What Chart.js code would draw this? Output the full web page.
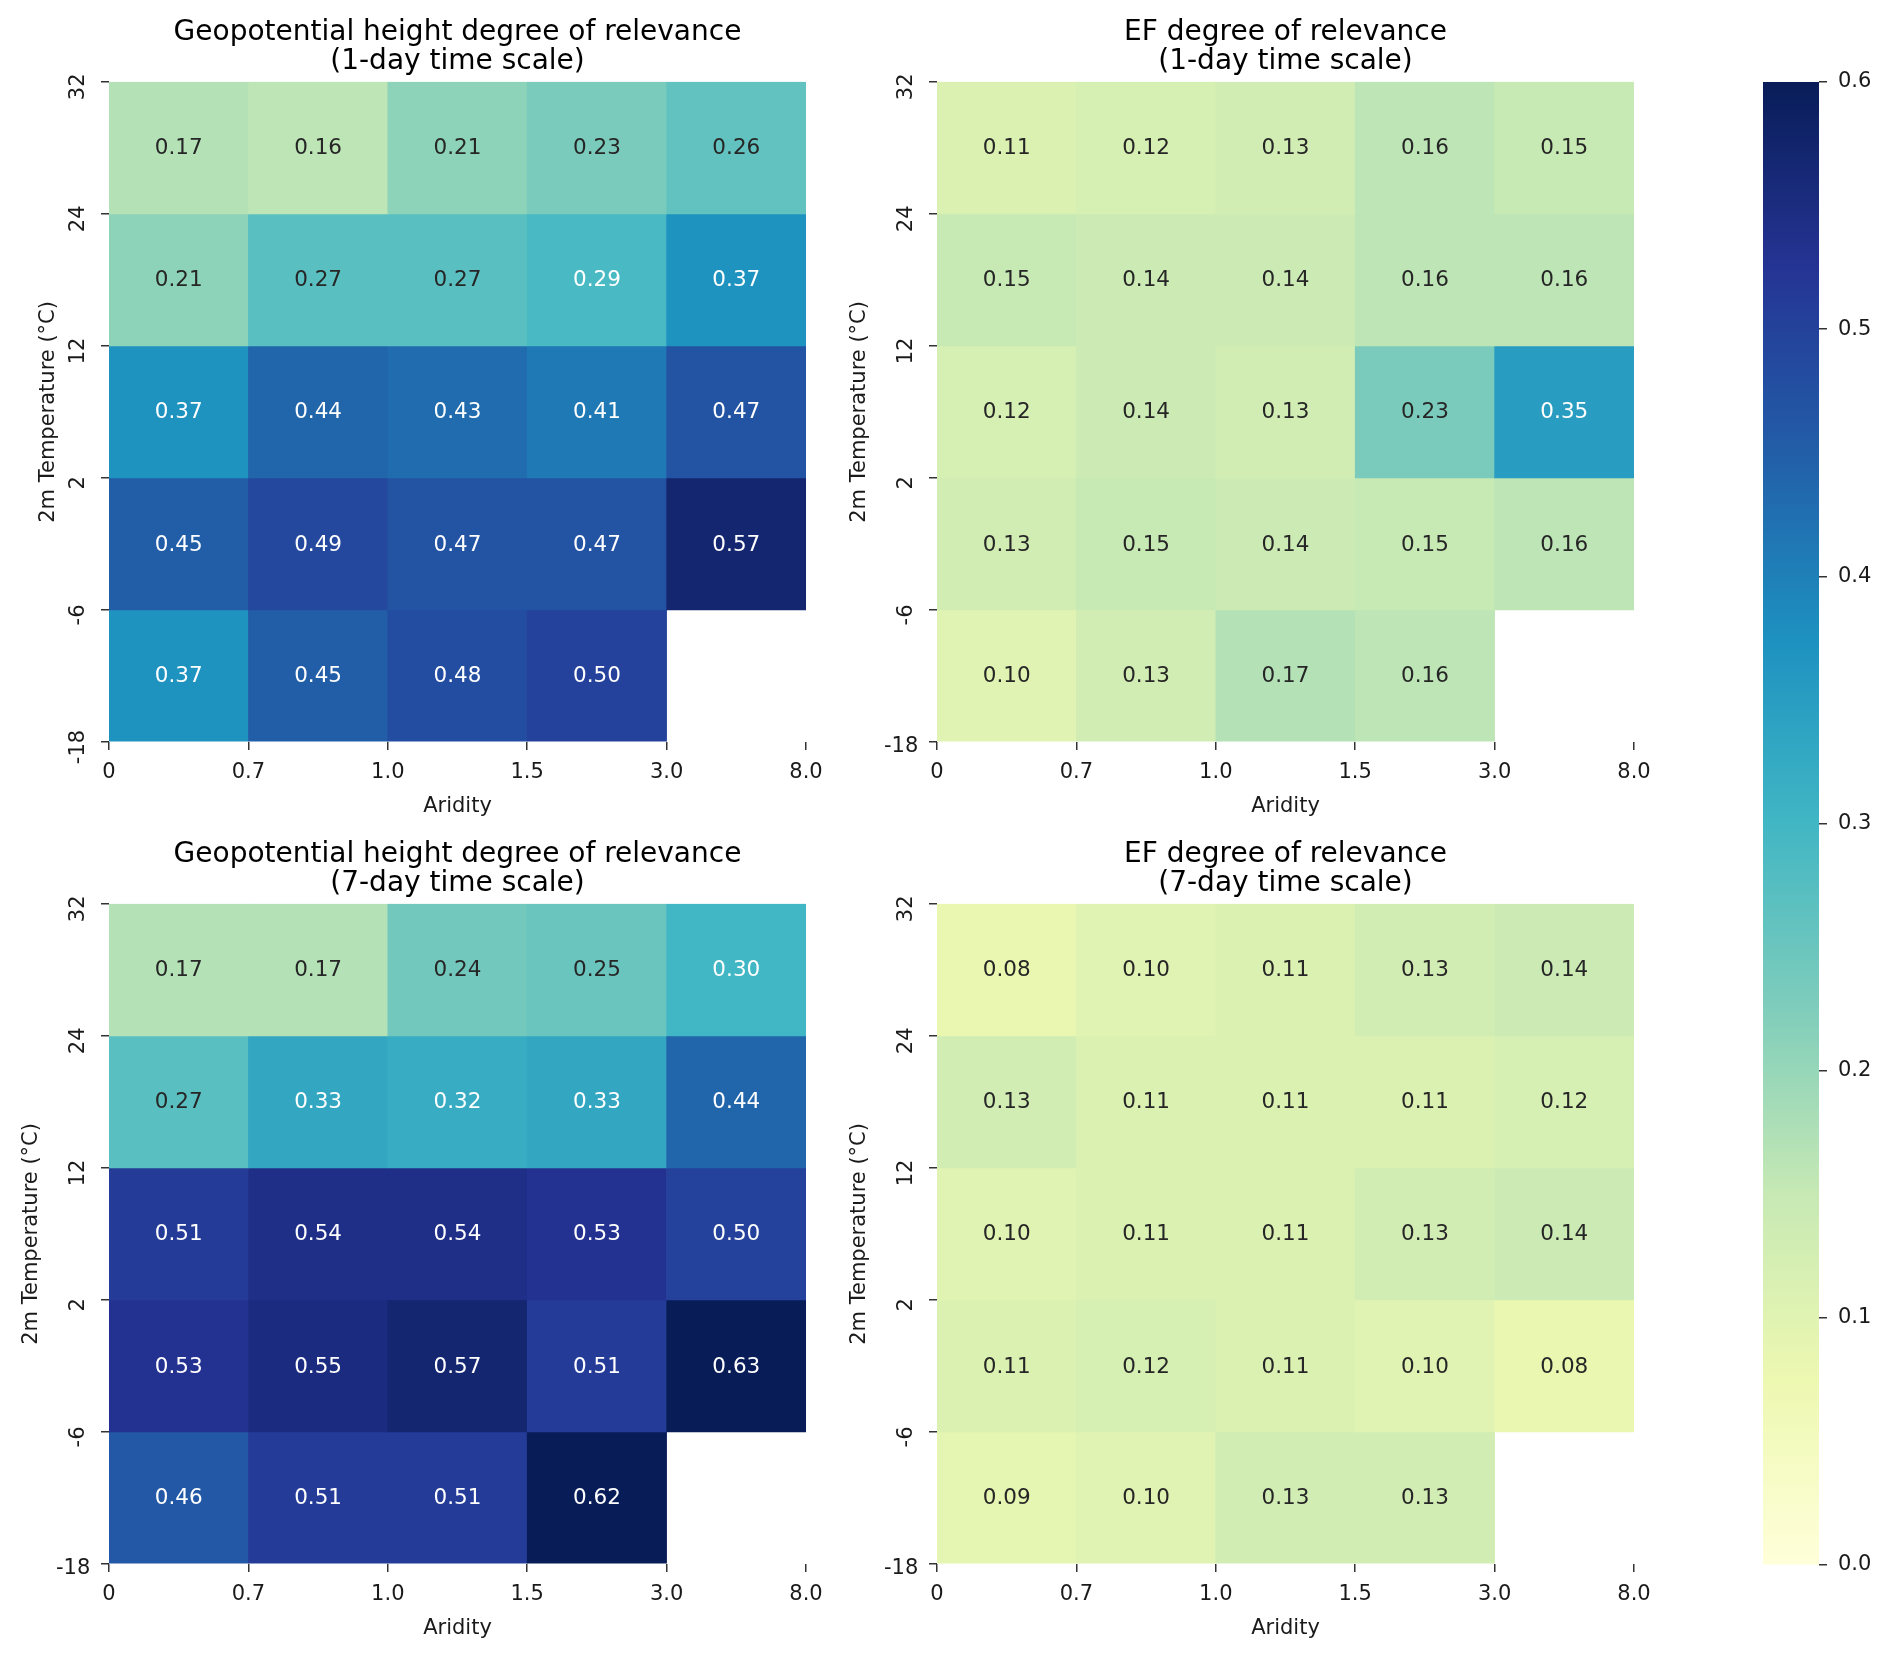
<!DOCTYPE html>
<html lang="en">
<head>
<meta charset="UTF-8">
<title>Degree of relevance by aridity and temperature</title>
<script src="https://cdn.jsdelivr.net/npm/chart.js"></script>
<style>
  body { margin: 0; background: #fff; }
  #fig { position: relative; width: 1892px; height: 1659px; }
  #fig canvas { position: absolute; }
</style>
</head>
<body>
<div id="fig">
  <canvas id="gph1" width="900" height="830" style="left:0px;top:0px"></canvas>
  <canvas id="ef1" width="900" height="830" style="left:828px;top:0px"></canvas>
  <canvas id="gph7" width="900" height="830" style="left:0px;top:822px"></canvas>
  <canvas id="ef7" width="900" height="830" style="left:828px;top:822px"></canvas>
  <canvas id="cbar" width="192" height="1659" style="left:1700px;top:0px"></canvas>
</div>
<script>
// bin edges
const aridityTicks = ['0', '0.7', '1.0', '1.5', '3.0', '8.0'];
const tempTicks = ['-18', '-6', '2', '12', '24', '32']; // bottom -> top

// rows: warmest band (24..32) first, coldest (-18..-6) last; columns: aridity bins
const gph1 = [
  [0.17, 0.16, 0.21, 0.23, 0.26],
  [0.21, 0.27, 0.27, 0.29, 0.37],
  [0.37, 0.44, 0.43, 0.41, 0.47],
  [0.45, 0.49, 0.47, 0.47, 0.57],
  [0.37, 0.45, 0.48, 0.50, null]
];
const ef1 = [
  [0.11, 0.12, 0.13, 0.16, 0.15],
  [0.15, 0.14, 0.14, 0.16, 0.16],
  [0.12, 0.14, 0.13, 0.23, 0.35],
  [0.13, 0.15, 0.14, 0.15, 0.16],
  [0.10, 0.13, 0.17, 0.16, null]
];
const gph7 = [
  [0.17, 0.17, 0.24, 0.25, 0.30],
  [0.27, 0.33, 0.32, 0.33, 0.44],
  [0.51, 0.54, 0.54, 0.53, 0.50],
  [0.53, 0.55, 0.57, 0.51, 0.63],
  [0.46, 0.51, 0.51, 0.62, null]
];
const ef7 = [
  [0.08, 0.10, 0.11, 0.13, 0.14],
  [0.13, 0.11, 0.11, 0.11, 0.12],
  [0.10, 0.11, 0.11, 0.13, 0.14],
  [0.11, 0.12, 0.11, 0.10, 0.08],
  [0.09, 0.10, 0.13, 0.13, null]
];
const vmin = 0, vmax = 0.6;

// matplotlib YlGnBu
const ylgnbu = ['#ffffd9', '#edf8b1', '#c7e9b4', '#7fcdbb', '#41b6c4', '#1d91c0', '#225ea8', '#253494', '#081d58'];

Chart.defaults.font.family = '"DejaVu Sans", sans-serif';
Chart.defaults.color = '#1a1a1a';

function hexRgb(h) {
  return [1, 3, 5].map(i => parseInt(h.substr(i, 2), 16));
}

function cmap(v) {
  let t = (v - vmin) / (vmax - vmin);
  t = Math.max(0, Math.min(1, t)) * (ylgnbu.length - 1);
  const i = Math.min(Math.floor(t), ylgnbu.length - 2);
  const f = t - i;
  const a = hexRgb(ylgnbu[i]), b = hexRgb(ylgnbu[i + 1]);
  return a.map((c, k) => Math.round(c + (b[k] - c) * f));
}

// same rule seaborn uses to pick the annotation colour
function luminance(rgb) {
  const lin = rgb.map(c => {
    c = c / 255;
    return c <= 0.03928 ? c / 12.92 : Math.pow((c + 0.055) / 1.055, 2.4);
  });
  return 0.2126 * lin[0] + 0.7152 * lin[1] + 0.0722 * lin[2];
}

const annotate = {
  id: 'annotate',
  afterDatasetsDraw(chart) {
    const ctx = chart.ctx;
    ctx.save();
    ctx.font = '21.5px "DejaVu Sans"';
    ctx.textAlign = 'center';
    ctx.textBaseline = 'middle';
    chart.data.datasets.forEach((ds, i) => {
      chart.getDatasetMeta(i).data.forEach((bar, j) => {
        ctx.fillStyle = ds.textColors[j];
        ctx.fillText(ds.values[j].toFixed(2), bar.x, (bar.y + bar.base) / 2 + 1);
      });
    });
    ctx.restore();
  }
};

const tickFont = { size: 21 };
const tickGrid = { drawOnChartArea: false, offset: false, tickLength: 8, color: '#333', lineWidth: 1.5 };

function makePanel(id, rows, title, flatBottom) {
  const n = rows.length;
  const datasets = rows.map((row, r) => {
    const cols = row.map((v, c) => c).filter(c => row[c] != null);
    const vals = cols.map(c => row[c]);
    return {
      data: cols.map(c => ({ x: c + 0.5, y: [n - 1 - r, n - r] })),
      values: vals,
      backgroundColor: vals.map(v => 'rgb(' + cmap(v).join(',') + ')'),
      textColors: vals.map(v => luminance(cmap(v)) > 0.408 ? '#262626' : '#ffffff'),
      borderWidth: 0,
      grouped: false,
      barPercentage: 1,
      categoryPercentage: 1
    };
  });

  return new Chart(document.getElementById(id), {
    type: 'bar',
    data: { datasets },
    plugins: [annotate],
    options: {
      responsive: false,
      animation: false,
      events: [],
      layout: { padding: { right: 94 } },
      plugins: {
        legend: { display: false },
        tooltip: { enabled: false },
        title: {
          display: true,
          text: title,
          fullSize: false,
          color: '#000',
          font: { size: 28, weight: 'normal', lineHeight: 1.05 },
          padding: { top: 18, bottom: 5 }
        }
      },
      scales: {
        x: {
          type: 'linear', min: 0, max: 5, offset: false,
          afterFit: s => { s.height = 88; s.paddingLeft = 0; s.paddingRight = 0; },
          ticks: {
            stepSize: 1, autoSkip: false, maxRotation: 0, padding: 10, font: tickFont,
            callback: v => aridityTicks[Math.round(v)]
          },
          grid: tickGrid,
          border: { display: false },
          title: { display: true, text: 'Aridity', font: tickFont, padding: { top: 0, bottom: 11 } }
        },
        // inner axis: tick marks and the rotated labels
        y: {
          type: 'linear', min: 0, max: 5, weight: 0,
          afterFit: s => { s.width = 59; s.paddingTop = 0; s.paddingBottom = 0; },
          ticks: {
            stepSize: 1, autoSkip: false, minRotation: 90, maxRotation: 90, labelOffset: 5,
            crossAlign: 'center', padding: flatBottom ? 9 : 5, font: tickFont,
            callback: v => (flatBottom && v === 0) ? '' : tempTicks[Math.round(v)]
          },
          grid: tickGrid,
          border: { display: false }
        },
        // outer axis: axis title, and the upright lowest label where there is one
        y2: {
          type: 'linear', min: 0, max: 5, weight: 1, position: 'left',
          afterFit: s => { s.width = 50; s.paddingTop = 0; s.paddingBottom = 0; },
          ticks: {
            stepSize: 1, autoSkip: false, mirror: true, crossAlign: 'near', padding: 6, labelOffset: 5,
            font: tickFont,
            callback: v => (flatBottom && v === 0) ? tempTicks[0] : ''
          },
          grid: { display: false, drawTicks: false },
          border: { display: false },
          title: {
            display: true, text: '2m Temperature (°C)', font: tickFont,
            padding: { top: flatBottom ? 19 : 36 }
          }
        }
      }
    }
  });
}

makePanel('gph1', gph1, ['Geopotential height degree of relevance', '(1-day time scale)'], false);
makePanel('ef1', ef1, ['EF degree of relevance', '(1-day time scale)'], true);
makePanel('gph7', gph7, ['Geopotential height degree of relevance', '(7-day time scale)'], true);
makePanel('ef7', ef7, ['EF degree of relevance', '(7-day time scale)'], true);

// colour bar
new Chart(document.getElementById('cbar'), {
  type: 'bar',
  data: {
    labels: [''],
    datasets: [{
      data: [[vmin, vmax]],
      backgroundColor: c => {
        const a = c.chart.chartArea;
        if (!a) return ylgnbu[0];
        const g = c.chart.ctx.createLinearGradient(0, a.bottom, 0, a.top);
        ylgnbu.forEach((col, i) => g.addColorStop(i / (ylgnbu.length - 1), col));
        return g;
      },
      borderWidth: 0,
      barPercentage: 1,
      categoryPercentage: 1
    }]
  },
  options: {
    responsive: false,
    animation: false,
    events: [],
    layout: { padding: { left: 63, top: 82, bottom: 94 } },
    plugins: { legend: { display: false }, tooltip: { enabled: false } },
    scales: {
      x: { display: false },
      y: {
        position: 'right', min: vmin, max: vmax,
        afterFit: s => { s.width = 73; s.paddingTop = 0; s.paddingBottom = 0; },
        ticks: { stepSize: 0.1, padding: 11, font: tickFont, callback: v => v.toFixed(1) },
        grid: tickGrid,
        border: { display: false }
      }
    }
  }
});
</script>
</body>
</html>
